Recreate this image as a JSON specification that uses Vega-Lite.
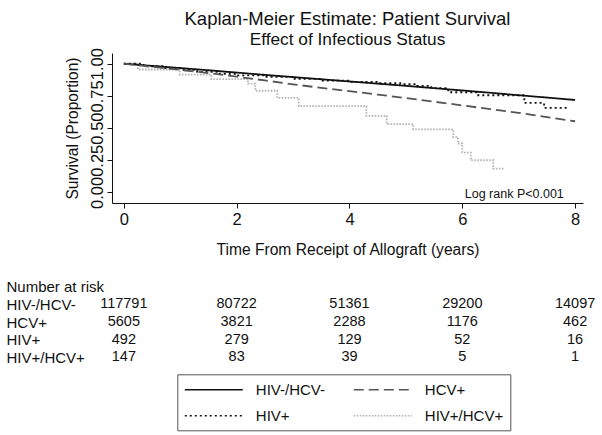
{
  "$schema": "https://vega.github.io/schema/vega-lite/v6.json",
  "padding": {"left": 6, "top": 9, "right": 5, "bottom": 5},
  "background": "white",
  "config": {
    "font": "Liberation Sans",
    "view": {"stroke": null},
    "axis": {"grid": false, "domainColor": "#111", "tickColor": "#111", "labelColor": "#111", "titleColor": "#111", "titleFontWeight": "normal", "domainWidth": 1, "tickWidth": 1}
  },
  "datasets": {
    "smooth": [
      {"group": "HIV-/HCV-", "t": 0, "S": 1.0},
      {"group": "HIV-/HCV-", "t": 0.5, "S": 0.983},
      {"group": "HIV-/HCV-", "t": 1, "S": 0.966},
      {"group": "HIV-/HCV-", "t": 1.5, "S": 0.949},
      {"group": "HIV-/HCV-", "t": 2, "S": 0.931},
      {"group": "HIV-/HCV-", "t": 2.5, "S": 0.913},
      {"group": "HIV-/HCV-", "t": 3, "S": 0.896},
      {"group": "HIV-/HCV-", "t": 3.5, "S": 0.879},
      {"group": "HIV-/HCV-", "t": 4, "S": 0.862},
      {"group": "HIV-/HCV-", "t": 4.5, "S": 0.845},
      {"group": "HIV-/HCV-", "t": 5, "S": 0.828},
      {"group": "HIV-/HCV-", "t": 5.5, "S": 0.81},
      {"group": "HIV-/HCV-", "t": 6, "S": 0.792},
      {"group": "HIV-/HCV-", "t": 6.5, "S": 0.774},
      {"group": "HIV-/HCV-", "t": 7, "S": 0.755},
      {"group": "HIV-/HCV-", "t": 7.5, "S": 0.737},
      {"group": "HIV-/HCV-", "t": 8, "S": 0.718},
      {"group": "HCV+", "t": 0, "S": 1.0},
      {"group": "HCV+", "t": 0.5, "S": 0.976},
      {"group": "HCV+", "t": 1, "S": 0.952},
      {"group": "HCV+", "t": 1.5, "S": 0.927},
      {"group": "HCV+", "t": 2, "S": 0.899},
      {"group": "HCV+", "t": 2.5, "S": 0.87},
      {"group": "HCV+", "t": 3, "S": 0.84},
      {"group": "HCV+", "t": 3.5, "S": 0.812},
      {"group": "HCV+", "t": 4, "S": 0.787},
      {"group": "HCV+", "t": 4.5, "S": 0.76},
      {"group": "HCV+", "t": 5, "S": 0.733},
      {"group": "HCV+", "t": 5.5, "S": 0.705},
      {"group": "HCV+", "t": 6, "S": 0.676},
      {"group": "HCV+", "t": 6.5, "S": 0.647},
      {"group": "HCV+", "t": 7, "S": 0.618},
      {"group": "HCV+", "t": 7.5, "S": 0.585},
      {"group": "HCV+", "t": 8, "S": 0.553}
    ],
    "steps": [
      {"group": "HIV+/HCV+", "t": 0, "S": 1.0},
      {"group": "HIV+/HCV+", "t": 0.25, "S": 0.955},
      {"group": "HIV+/HCV+", "t": 0.99, "S": 0.915},
      {"group": "HIV+/HCV+", "t": 1.55, "S": 0.88},
      {"group": "HIV+/HCV+", "t": 2.2, "S": 0.845},
      {"group": "HIV+/HCV+", "t": 2.33, "S": 0.79},
      {"group": "HIV+/HCV+", "t": 2.72, "S": 0.735},
      {"group": "HIV+/HCV+", "t": 3.1, "S": 0.67},
      {"group": "HIV+/HCV+", "t": 4.3, "S": 0.595},
      {"group": "HIV+/HCV+", "t": 4.66, "S": 0.53},
      {"group": "HIV+/HCV+", "t": 5.13, "S": 0.49},
      {"group": "HIV+/HCV+", "t": 5.84, "S": 0.43},
      {"group": "HIV+/HCV+", "t": 5.92, "S": 0.38},
      {"group": "HIV+/HCV+", "t": 6.0, "S": 0.31},
      {"group": "HIV+/HCV+", "t": 6.15, "S": 0.25},
      {"group": "HIV+/HCV+", "t": 6.55, "S": 0.185},
      {"group": "HIV+/HCV+", "t": 6.75, "S": 0.185},
      {"group": "HIV+", "t": 0, "S": 1.0},
      {"group": "HIV+", "t": 0.35, "S": 0.98},
      {"group": "HIV+", "t": 0.7, "S": 0.965},
      {"group": "HIV+", "t": 1.0, "S": 0.952},
      {"group": "HIV+", "t": 1.3, "S": 0.936},
      {"group": "HIV+", "t": 1.7, "S": 0.922},
      {"group": "HIV+", "t": 2.0, "S": 0.91},
      {"group": "HIV+", "t": 2.5, "S": 0.897},
      {"group": "HIV+", "t": 3.0, "S": 0.882},
      {"group": "HIV+", "t": 3.5, "S": 0.868},
      {"group": "HIV+", "t": 4.0, "S": 0.858},
      {"group": "HIV+", "t": 4.5, "S": 0.848},
      {"group": "HIV+", "t": 4.9, "S": 0.842},
      {"group": "HIV+", "t": 5.2, "S": 0.828},
      {"group": "HIV+", "t": 5.45, "S": 0.81},
      {"group": "HIV+", "t": 5.75, "S": 0.778},
      {"group": "HIV+", "t": 6.26, "S": 0.755},
      {"group": "HIV+", "t": 7.1, "S": 0.695},
      {"group": "HIV+", "t": 7.45, "S": 0.657},
      {"group": "HIV+", "t": 7.9, "S": 0.657}
    ],
    "note": [
      {"t": 7.8, "S": -0.044, "label": "Log rank P<0.001"}
    ],
    "risk": [
      {"group": "HIV-/HCV-", "time": 0, "n": 117791},
      {"group": "HIV-/HCV-", "time": 2, "n": 80722},
      {"group": "HIV-/HCV-", "time": 4, "n": 51361},
      {"group": "HIV-/HCV-", "time": 6, "n": 29200},
      {"group": "HIV-/HCV-", "time": 8, "n": 14097},
      {"group": "HCV+", "time": 0, "n": 5605},
      {"group": "HCV+", "time": 2, "n": 3821},
      {"group": "HCV+", "time": 4, "n": 2288},
      {"group": "HCV+", "time": 6, "n": 1176},
      {"group": "HCV+", "time": 8, "n": 462},
      {"group": "HIV+", "time": 0, "n": 492},
      {"group": "HIV+", "time": 2, "n": 279},
      {"group": "HIV+", "time": 4, "n": 129},
      {"group": "HIV+", "time": 6, "n": 52},
      {"group": "HIV+", "time": 8, "n": 16},
      {"group": "HIV+/HCV+", "time": 0, "n": 147},
      {"group": "HIV+/HCV+", "time": 2, "n": 83},
      {"group": "HIV+/HCV+", "time": 4, "n": 39},
      {"group": "HIV+/HCV+", "time": 6, "n": 5},
      {"group": "HIV+/HCV+", "time": 8, "n": 1}
    ]
  },
  "bounds": "flush",
  "spacing": 75,
  "vconcat": [
    {
      "width": 471,
      "height": 150,
      "title": {
        "text": "Kaplan-Meier Estimate: Patient Survival",
        "subtitle": "Effect of Infectious Status",
        "fontSize": 18.5,
        "subtitleFontSize": 17.3,
        "fontWeight": "normal",
        "color": "#111",
        "subtitleColor": "#111",
        "anchor": "middle",
        "offset": -1,
        "subtitlePadding": 3
      },
      "encoding": {
        "x": {
          "field": "t", "type": "quantitative",
          "scale": {"domain": [-0.21, 8.14], "nice": false, "zero": false},
          "axis": {"values": [0, 2, 4, 6, 8], "format": "d", "tickSize": 5, "labelPadding": 3, "labelFontSize": 16.5, "labelFlush": false, "labelOverlap": false, "title": "Time From Receipt of Allograft (years)", "titleFontSize": 15.6, "titlePadding": 15}
        },
        "y": {
          "field": "S", "type": "quantitative",
          "scale": {"domain": [-0.082, 1.083], "nice": false, "zero": false},
          "axis": {"values": [0, 0.25, 0.5, 0.75, 1], "format": ".2f", "tickSize": 5, "labelPadding": 5, "labelFontSize": 16.5, "labelAngle": -90, "labelAlign": "center", "labelBaseline": "alphabetic", "labelFlush": false, "labelOverlap": false, "title": "Survival (Proportion)", "titleFontSize": 15.6, "titlePadding": 9}
        }
      },
      "layer": [
        {
          "data": {"name": "steps"},
          "mark": {"type": "line", "interpolate": "step-after", "strokeWidth": 1.8},
          "encoding": {
            "color": {"field": "group", "type": "nominal",
              "scale": {"domain": ["HIV-/HCV-", "HIV+", "HCV+", "HIV+/HCV+"], "range": ["#111111", "#111111", "#555555", "#b0b0b0"]},
              "legend": {"title": null, "orient": "none", "legendX": 65.3, "legendY": 321.3, "columns": 2, "columnPadding": 24, "rowPadding": 9, "symbolType": "M-1,0H6.25", "symbolSize": 256, "symbolStrokeWidth": 1.6, "labelOffset": 54, "labelFontSize": 15, "labelColor": "#111", "labelLimit": 300, "padding": 6.5, "strokeColor": "#555", "fillColor": "white"}},
            "strokeDash": {"field": "group", "type": "nominal",
              "scale": {"domain": ["HIV-/HCV-", "HIV+", "HCV+", "HIV+/HCV+"], "range": [[1, 0], [2, 3], [10, 5], [1.5, 1.5]]},
              "legend": {"title": null, "orient": "none", "legendX": 65.3, "legendY": 321.3, "columns": 2, "columnPadding": 24, "rowPadding": 9, "symbolType": "M-1,0H6.25", "symbolSize": 256, "symbolStrokeWidth": 1.6, "labelOffset": 54, "labelFontSize": 15, "labelColor": "#111", "labelLimit": 300, "padding": 6.5, "strokeColor": "#555", "fillColor": "white"}}
          }
        },
        {
          "data": {"name": "smooth"},
          "mark": {"type": "line", "interpolate": "linear", "strokeWidth": 1.8},
          "encoding": {
            "color": {"field": "group", "type": "nominal"},
            "strokeDash": {"field": "group", "type": "nominal"}
          }
        },
        {
          "data": {"name": "note"},
          "mark": {"type": "text", "align": "right", "baseline": "alphabetic", "fontSize": 12.5, "color": "#111"},
          "encoding": {"text": {"field": "label", "type": "nominal"}}
        }
      ]
    },
    {
      "width": 471,
      "height": 88,
      "data": {"name": "risk"},
      "mark": {"type": "text", "fontSize": 14.5, "color": "#111", "align": "center", "baseline": "middle"},
      "encoding": {
        "x": {"field": "time", "type": "quantitative", "scale": {"domain": [-0.21, 8.14], "nice": false, "zero": false}, "axis": null},
        "y": {"field": "group", "type": "nominal",
          "scale": {"domain": ["Number at risk", "HIV-/HCV-", "HCV+", "HIV+", "HIV+/HCV+"]},
          "axis": {"title": null, "domain": false, "ticks": false, "tickSize": 0, "labelAlign": "left", "labelPadding": 106, "labelFontSize": 15, "labelColor": "#111"}},
        "text": {"field": "n", "type": "quantitative", "format": "d"}
      }
    }
  ]
}
